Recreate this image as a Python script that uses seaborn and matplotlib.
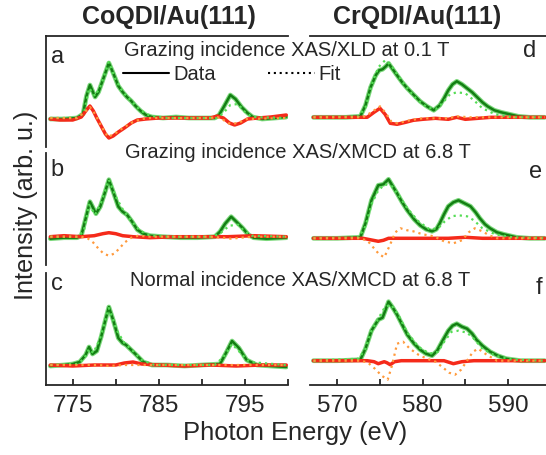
import matplotlib
matplotlib.use("Agg")
import matplotlib.pyplot as plt
from matplotlib.lines import Line2D
import seaborn as sns

# Co L2,3 edge panels (photon energy in eV, intensity in arb. u., baseline = 0)
# a: grazing incidence XAS / XLD at 0.1 T
a_xas_e = [772.4, 774.0, 775.5, 776.2, 776.6, 777.0, 777.3, 777.6, 778.0, 778.5, 779.2, 779.7, 780.3, 780.8, 781.3, 781.8,
           782.3, 782.9, 783.5, 784.2, 785.5, 787.0, 788.5, 790.0, 791.5, 792.0, 792.6, 793.3, 793.9, 794.6, 795.3, 795.9,
           797.0, 798.5, 799.8]
a_xas_i = [-1, -1, 0, 4, 22, 33, 27, 21, 26, 38, 55, 45, 32, 26, 21, 17, 12, 7, 3, 1, 0, 1, 0, 0, 0, 3, 12, 23, 19, 11,
           5, 1, -1, 0, 1]
a_xasfit_e = [772.4, 775.5, 776.3, 776.9, 777.6, 778.3, 779.2, 779.9, 780.8, 781.8, 782.8, 784.0, 786.0, 791.0, 791.8,
              792.5, 793.3, 794.2, 795.0, 795.8, 799.8]
a_xasfit_i = [0, 0, 5, 30, 22, 33, 56, 40, 26, 17, 8, 2, 0, 0, 0, 5, 13, 14, 6, 1, 0]
a_dic_e = [772.4, 773.5, 775.0, 776.0, 776.6, 777.0, 777.4, 777.8, 778.3, 778.8, 779.2, 779.7, 780.3, 781.0, 781.8, 782.5,
           783.5, 785.0, 787.0, 789.0, 791.0, 791.8, 792.5, 793.2, 793.8, 794.5, 795.3, 796.5, 798.0, 799.8]
a_dic_i = [-1, -2, -2, 1, 8, 12, 7, 0, -8, -16, -20, -18, -14, -10, -5, -2, -1, 0, 0, 0, 0, 2, 0, -5, -7, -5, -1, 0, 1, 3]
a_dicfit_e = [772.4, 775.5, 776.4, 777.0, 777.6, 778.3, 779.1, 780.0, 781.0, 782.0, 783.0, 784.0, 791.0, 791.8, 792.5,
              793.3, 794.2, 795.2, 799.8]
a_dicfit_i = [0, 0, 6, 11, 4, -8, -19, -15, -9, -4, -1, 0, 0, 1, -2, -6, -5, -1, 0]

# b: grazing incidence XAS / XMCD at 6.8 T
b_xas_e = [772.4, 774.0, 775.5, 776.0, 776.5, 777.0, 777.3, 777.7, 778.2, 778.7, 779.2, 779.7, 780.3, 780.8, 781.3, 781.9,
           782.5, 783.2, 784.0, 785.5, 787.5, 789.5, 791.5, 792.1, 792.7, 793.4, 794.0, 794.7, 795.4, 796.0, 797.5, 799.8]
b_xas_i = [-2, -1, -1, 1, 18, 35, 30, 23, 30, 43, 57, 45, 30, 25, 22, 15, 7, 3, 1, 0, -1, -1, 0, 5, 13, 20, 15, 9, 2, -1,
           -2, -1]
b_xasfit_e = [772.4, 775.6, 776.3, 776.9, 777.6, 778.3, 779.2, 780.0, 780.9, 781.8, 782.8, 784.0, 786.0, 791.3, 792.2,
              793.2, 794.2, 795.0, 795.8, 799.8]
b_xasfit_i = [0, 0, 6, 32, 22, 34, 57, 40, 26, 16, 6, 1, 0, 0, 4, 11, 12, 5, 1, 0]
b_dic_e = [772.4, 774.0, 776.0, 777.5, 778.5, 779.2, 780.0, 780.8, 782.0, 784.0, 787.0, 790.0, 793.0, 796.0, 799.8]
b_dic_i = [0, 1, 0, 1, 3, 4, 3, 1, 0, -1, 0, 0, 0, 1, 0]
b_dicfit_e = [772.4, 776.0, 776.8, 777.4, 778.0, 778.6, 779.2, 779.8, 780.4, 781.0, 781.8, 782.6, 784.0, 791.0, 792.5,
              793.4, 794.5, 796.0, 799.8]
b_dicfit_i = [0, 0, -2, -6, -12, -17, -19, -17, -12, -6, -1, 1, 0, 0, -1, -2, -1, 0, 0]

# c: normal incidence XAS / XMCD at 6.8 T
c_xas_e = [772.4, 774.0, 775.0, 775.8, 776.5, 776.9, 777.3, 777.8, 778.3, 778.8, 779.2, 779.7, 780.3, 780.8, 781.2, 781.8,
           782.4, 783.2, 784.2, 786.0, 788.0, 790.0, 792.1, 792.8, 793.5, 794.3, 795.2, 796.4, 798.0, 799.8]
c_xas_i = [-1, 0, 1, 3, 10, 18, 11, 14, 28, 45, 58, 45, 27, 22, 20, 15, 10, 3, 0, 0, -1, 0, 1, 12, 24, 17, 5, 0, -1, -2]
c_xasfit_e = [772.4, 775.5, 776.3, 776.9, 777.4, 778.2, 779.2, 780.1, 781.0, 782.0, 783.0, 784.5, 791.5, 792.5, 793.5,
              794.5, 795.5, 799.8]
c_xasfit_i = [0, 1, 6, 16, 12, 27, 57, 35, 22, 14, 5, 0, 0, 8, 21, 12, 3, 0]
c_dic_e = [772.4, 775.0, 777.5, 780.0, 781.0, 782.0, 783.0, 785.0, 788.0, 791.0, 794.0, 797.0, 799.8]
c_dic_i = [0, -1, 0, 0, 2, 3, 1, 0, -1, 0, -1, 0, 0]
c_dicfit_e = [772.4, 778.0, 779.2, 781.0, 799.8]
c_dicfit_i = [0, 0, -1, 0, 0]

# Cr L2,3 edge panels
# d: grazing incidence XAS / XLD at 0.1 T
d_xas_e = [567.2, 569.0, 571.0, 572.7, 573.3, 573.9, 574.5, 574.9, 575.3, 575.7, 576.0, 576.5, 577.0, 577.6, 578.2, 579.0,
           579.7, 580.5, 581.3, 582.0, 582.5, 583.0, 583.5, 584.0, 584.6, 585.2, 585.8, 586.4, 587.0, 587.6, 588.4, 589.2,
           590.2, 591.2, 592.5, 594.3]
d_xas_i = [0, 0, 0, 1, 12, 30, 42, 47, 48, 51, 54, 48, 42, 35, 29, 22, 16, 11, 7, 12, 19, 27, 33, 36, 33, 29, 25, 20, 15,
           11, 7, 5, 3, 1, 0, 0]
d_xasfit_e = [567.2, 572.5, 573.3, 574.0, 574.8, 575.6, 576.3, 577.0, 578.0, 579.2, 580.5, 581.5, 582.3, 583.2, 584.0,
              585.0, 586.0, 587.0, 588.5, 590.5, 594.3]
d_xasfit_i = [0, 1, 10, 32, 50, 57, 52, 43, 31, 19, 10, 8, 14, 23, 25, 24, 17, 9, 3, 0, 0]
d_dic_e = [567.2, 570.0, 572.0, 573.5, 574.3, 575.0, 575.6, 576.2, 577.0, 578.0, 578.9, 580.0, 581.5, 583.0, 584.0, 585.0,
           586.5, 588.0, 590.0, 592.0, 594.3]
d_dic_i = [0, 0, 0, 0, 5, 9, 3, -6, -7, -5, -3, -2, -1, -2, 0, -2, -1, 0, 0, 0, 0]
d_dicfit_e = [567.2, 573.0, 574.0, 575.0, 575.7, 576.3, 577.0, 578.5, 580.0, 583.0, 584.0, 585.5, 588.0, 594.3]
d_dicfit_i = [0, 0, 5, 11, 4, -4, -6, -3, -1, -1, 1, 0, 0, 0]

# e: grazing incidence XAS / XMCD at 6.8 T
e_xas_e = [567.2, 570.0, 572.7, 573.3, 574.0, 574.8, 575.4, 576.0, 576.5, 577.0, 577.6, 578.2, 579.0, 579.7, 580.4, 581.1,
           581.6, 582.0, 582.5, 583.0, 583.6, 584.2, 584.9, 585.6, 586.2, 586.7, 587.3, 587.9, 588.7, 589.5, 591.0, 592.5,
           594.3]
e_xas_i = [0, 0, 1, 15, 38, 53, 54, 59, 52, 45, 36, 28, 19, 13, 9, 7, 9, 15, 24, 32, 36, 38, 35, 32, 26, 20, 14, 10, 6, 4,
           1, 0, 0]
e_xasfit_e = [567.2, 572.5, 573.3, 574.0, 574.8, 575.6, 576.4, 577.2, 578.2, 579.5, 580.8, 581.8, 582.6, 583.4, 584.2,
              585.2, 586.0, 587.0, 588.5, 590.5, 594.3]
e_xasfit_i = [0, 1, 12, 34, 48, 54, 52, 43, 30, 17, 9, 10, 17, 22, 23, 22, 18, 10, 4, 1, 0]
e_dic_e = [567.2, 570.0, 573.0, 574.2, 574.8, 575.4, 576.0, 577.0, 579.0, 581.0, 583.0, 585.0, 587.0, 590.0, 594.3]
e_dic_i = [0, 0, 0, -2, -3, -2, 0, 0, 0, 0, 0, 1, 0, 0, 0]
e_dicfit_e = [567.2, 572.8, 573.6, 574.3, 574.9, 575.5, 576.1, 576.8, 577.4, 578.2, 578.9, 580.0, 581.3, 582.5, 583.6,
              584.6, 585.4, 586.1, 587.0, 587.8, 588.7, 594.3]
e_dicfit_i = [0, 0, -3, -10, -16, -19, -8, 6, 10, 8, 7, 4, 2, -3, -5, -2, 6, 10, 7, 3, 0, 0]

# f: normal incidence XAS / XMCD at 6.8 T
f_xas_e = [567.2, 570.0, 572.7, 573.3, 574.0, 574.8, 575.3, 575.7, 576.0, 576.5, 577.0, 577.6, 578.2, 579.0, 579.7, 580.4,
           581.1, 581.7, 582.4, 583.0, 583.5, 584.0, 584.6, 585.2, 585.8, 586.3, 587.0, 587.9, 588.8, 589.8, 591.5, 594.3]
f_xas_i = [0, 0, 1, 12, 30, 41, 43, 52, 59, 53, 46, 36, 26, 17, 11, 7, 5, 10, 21, 30, 35, 37, 34, 32, 27, 21, 15, 9, 5, 2,
           0, 0]
f_xasfit_e = [567.2, 572.5, 573.3, 574.0, 574.8, 575.6, 576.3, 577.2, 578.2, 579.5, 580.8, 581.8, 582.6, 583.4, 584.2,
              585.2, 586.0, 587.0, 588.5, 590.5, 594.3]
f_xasfit_i = [0, 2, 12, 30, 42, 54, 56, 45, 28, 14, 7, 9, 20, 29, 30, 28, 22, 12, 5, 1, 0]
f_dic_e = [567.2, 570.0, 573.5, 574.3, 574.8, 575.5, 575.8, 576.2, 576.7, 577.5, 580.0, 582.5, 583.6, 584.6, 586.0, 590.0,
           594.3]
f_dic_i = [0, 0, 0, -1, -3, -1, -2, -4, -1, 0, 0, 0, -3, -1, 0, 0, 0]
f_dicfit_e = [567.2, 572.8, 573.6, 574.4, 575.2, 575.9, 576.4, 577.0, 577.7, 578.5, 579.5, 580.5, 581.5, 582.4, 583.1,
              583.8, 584.5, 585.2, 585.9, 586.5, 587.5, 588.7, 594.3]
f_dicfit_i = [0, 0, -2, -8, -15, -19, -5, 17, 19, 12, 6, 2, -1, -7, -12, -14, -9, 0, 9, 12, 6, 0, 0]

titles = ["CoQDI/Au(111)", "CrQDI/Au(111)"]
row_texts = ["Grazing incidence XAS/XLD at 0.1 T",
             "Grazing incidence XAS/XMCD at 6.8 T",
             "Normal incidence XAS/XMCD at 6.8 T"]
letters = ["a", "b", "c", "d", "e", "f"]
co_ticks = [775, 780, 785, 790, 795, 800]
co_ticklabels = ["775", "", "785", "", "795", ""]
cr_ticks = [570, 575, 580, 585, 590]
cr_ticklabels = ["570", "", "580", "", "590"]

panels = [
    (a_xas_e, a_xas_i, a_xasfit_e, a_xasfit_i, a_dic_e, a_dic_i, a_dicfit_e, a_dicfit_i),
    (b_xas_e, b_xas_i, b_xasfit_e, b_xasfit_i, b_dic_e, b_dic_i, b_dicfit_e, b_dicfit_i),
    (c_xas_e, c_xas_i, c_xasfit_e, c_xasfit_i, c_dic_e, c_dic_i, c_dicfit_e, c_dicfit_i),
    (d_xas_e, d_xas_i, d_xasfit_e, d_xasfit_i, d_dic_e, d_dic_i, d_dicfit_e, d_dicfit_i),
    (e_xas_e, e_xas_i, e_xasfit_e, e_xasfit_i, e_dic_e, e_dic_i, e_dicfit_e, e_dicfit_i),
    (f_xas_e, f_xas_i, f_xasfit_e, f_xasfit_i, f_dic_e, f_dic_i, f_dicfit_e, f_dicfit_i),
]

sns.set_style("ticks")
plt.rcParams["font.family"] = ["Liberation Sans", "DejaVu Sans"]

W, H = 546, 455
fig = plt.figure(figsize=(W / 100, H / 100), dpi=100)

def px_box(x0, x1, y0, y1):
    return [x0 / W, 1 - y1 / H, (x1 - x0) / W, (y1 - y0) / H]

rows = [(36, 147), (153, 265), (273, 385)]
cols = [(46, 288), (310, 546)]
xlims = [(771.9, 800.0), (566.8, 594.45)]
ylims = [(-29, 82), (-28.3, 83.7), (-20, 92), (-29.7, 81.3), (-26.7, 85.3), (-24.3, 87.7)]

green = "#137f13"
green_fit = "#55dd55"
red = "#f52a1a"
orange = "#ff9a3c"
dot = (0, (1, 1.8))

for k, series in enumerate(panels):
    col, row = divmod(k, 3)
    ax = fig.add_axes(px_box(cols[col][0], cols[col][1], rows[row][0], rows[row][1]))
    xe, xi, xfe, xfi, de, di, dfe, dfi = series
    sns.lineplot(x=xe, y=xi, ax=ax, color="#45c845", lw=3.4, alpha=0.7, sort=False, estimator=None)
    sns.lineplot(x=xe, y=xi, ax=ax, color=green, lw=1.8, sort=False, estimator=None)
    sns.lineplot(x=de, y=di, ax=ax, color=red, lw=2.5, sort=False, estimator=None)
    sns.lineplot(x=xfe, y=xfi, ax=ax, color=green_fit, lw=1.6, ls=dot, sort=False, estimator=None)
    sns.lineplot(x=dfe, y=dfi, ax=ax, color=orange, lw=1.6, ls=dot, sort=False, estimator=None)
    ax.set_xlim(xlims[col])
    ax.set_ylim(ylims[k])
    ax.set_yticks([])
    ax.set_xlabel("")
    ax.set_ylabel("")
    ax.patch.set_alpha(0)
    ax.spines["right"].set_visible(False)
    ax.spines["top"].set_visible(row == 0)
    ax.spines["bottom"].set_visible(row == 2)
    ax.spines["left"].set_visible(col == 0)
    for s in ax.spines.values():
        s.set_linewidth(1.3)
    if row == 2:
        ax.set_xticks(co_ticks if col == 0 else cr_ticks)
        ax.set_xticklabels(co_ticklabels if col == 0 else cr_ticklabels)
        ax.tick_params(axis="x", direction="in", length=4, width=1.3, pad=7, labelsize=17.5)
    else:
        ax.set_xticks([])

def ftext(x, y, s, **kw):
    fig.text(x / W, 1 - y / H, s, ha="center", va="center", **kw)

ftext(169, 17, titles[0], fontsize=18, fontweight="bold")
ftext(417, 17, titles[1], fontsize=18, fontweight="bold")
ftext(287, 51, row_texts[0], fontsize=14.5)
ftext(298, 153, row_texts[1], fontsize=14.5)
ftext(300, 280, row_texts[2], fontsize=14.5)
letter_pos = [(58, 57), (57, 170), (57, 284), (530, 51), (536, 172), (539, 288)]
for s, (x, y) in zip(letters, letter_pos):
    ftext(x, y, s, fontsize=17)

ftext(295, 433, "Photon Energy (eV)", fontsize=18.4)
ftext(26, 205, "Intensity (arb. u.)", fontsize=18.2, rotation=90)

handles = [Line2D([], [], color="black", lw=1.5),
           Line2D([], [], color="black", lw=1.5, ls=dot)]
fig.legend(handles, ["Data", "Fit"], loc="center left", bbox_to_anchor=(123 / W, 1 - 75 / H),
           ncol=2, frameon=False, fontsize=14.5, borderpad=0, borderaxespad=0,
           handlelength=2.3, handletextpad=0.2, columnspacing=2.6)

fig.savefig("out.png", dpi=100)
